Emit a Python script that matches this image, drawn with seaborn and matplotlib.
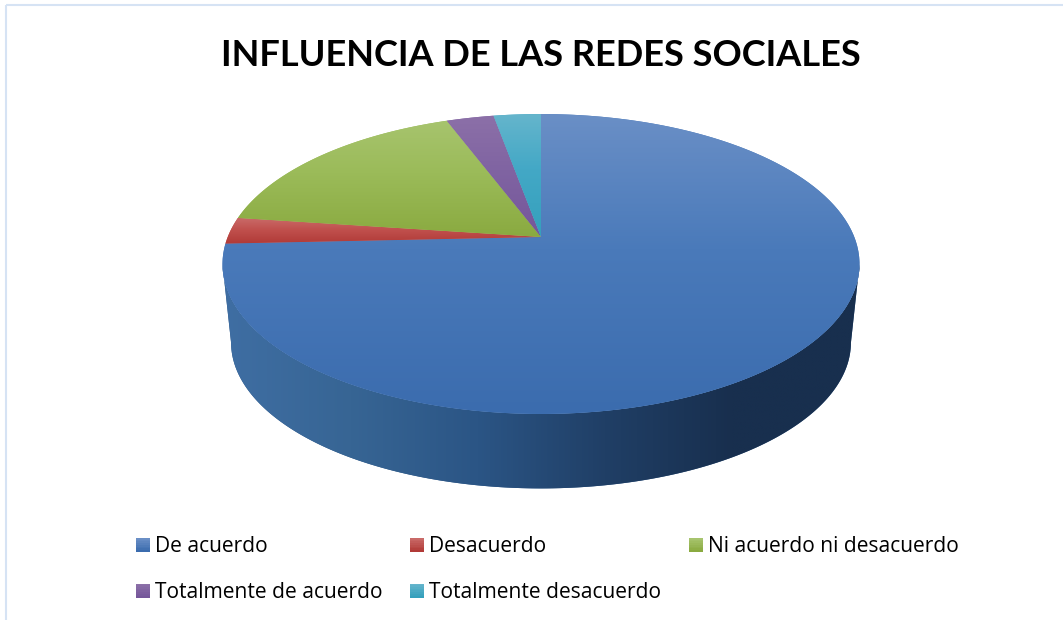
import numpy as np
import pandas as pd
import matplotlib
matplotlib.use("Agg")
import matplotlib.pyplot as plt
import seaborn as sns
from matplotlib.colors import LinearSegmentedColormap
from matplotlib.legend_handler import HandlerBase
from matplotlib.patches import Polygon, Patch, Rectangle
from matplotlib.path import Path
from matplotlib.transforms import Transform

title = "INFLUENCIA DE LAS REDES SOCIALES"
categories = ["De acuerdo", "Desacuerdo", "Ni acuerdo ni desacuerdo",
              "Totalmente de acuerdo", "Totalmente desacuerdo"]
values = [26, 1, 6, 1, 1]
tops = ["#6a8fc6", "#c96a68", "#a7c46e", "#8c70a8", "#65b5cc"]
mids = ["#4a7aba", "#c0504d", "#9bbb59", "#8064a2", "#43a8c6"]
lows = ["#3b6cae", "#b13a37", "#8aaa40", "#75569a", "#35a0bc"]
wall_stops = ["#3f6ea3", "#376594", "#2b5585", "#203f66", "#182f4e", "#182f4e"]

df = pd.DataFrame({"categoria": categories, "valor": values})

sns.set_theme(style="white")
plt.rcParams["font.family"] = ["Open Sans", "DejaVu Sans"]

W, H = 1063, 620
CX, CY = 541.0, 237.0          # apex of the pie on the canvas
K, A, B = 0.18, 313.3, 145.1   # perspective of the tilted disc


class Tilt(Transform):
    """Perspective view of a unit disc, in canvas pixels."""
    input_dims = output_dims = 2
    is_separable = False
    has_inverse = False

    def transform_non_affine(self, xy):
        xy = np.asarray(xy, float)
        d = 1 + K * xy[:, 1]
        return np.column_stack((CX + A * xy[:, 0] / d, CY - B * xy[:, 1] / d))

    def transform_path_non_affine(self, path):
        big = Path(path.vertices * 2000, path.codes)
        polys = big.to_polygons(closed_only=True)
        v = np.vstack(polys) / 2000
        return Path(self.transform_non_affine(v), closed=False)


tilt = Tilt()

fig = plt.figure(figsize=(W / 100, H / 100), dpi=100, facecolor="white")
ax = fig.add_axes([0, 0, 1, 1])

wedges, _ = ax.pie(df["valor"], startangle=90, counterclock=False,
                   colors=sns.color_palette(mids), radius=1.0, center=(0, 0))
ax.set_aspect("auto")
ax.set_xlim(0, W)
ax.set_ylim(H, 0)
ax.axis("off")

# Side wall of the disc
th = np.radians(np.linspace(-100.4, 280.4, 721))
rim = tilt.transform_non_affine(np.column_stack((np.cos(th), np.sin(th))))
front = rim[(np.sin(th) <= -K + 1e-3)]
front = front[np.argsort(front[:, 0])]
SCALE, DROP = 0.973, 78.5
lower = np.column_stack((CX + (front[:, 0] - CX) * SCALE,
                         264 + DROP + (front[:, 1] - 264) * SCALE))
wall = Polygon(np.vstack((front, lower[::-1])), closed=True, fc=wall_stops[2],
               ec="none", zorder=1)
ax.add_patch(wall)
wall_cm = LinearSegmentedColormap.from_list("wall", wall_stops)
im = ax.imshow(np.linspace(0, 1, 256)[None, :], cmap=wall_cm, aspect="auto",
               extent=(223, 860, 490, 260), zorder=1.1, interpolation="bilinear")
im.set_clip_path(wall)

# Top face, one gradient per slice
for w, a, b, c in zip(wedges, tops, mids, lows):
    w.set_transform(tilt + ax.transData)
    w.set_zorder(2)
    w.set_edgecolor("none")
    verts = w.get_transform().transform_path(w.get_path()).vertices
    px = ax.transData.inverted().transform(verts)
    x0, x1, y0, y1 = px[:, 0].min(), px[:, 0].max(), px[:, 1].min(), px[:, 1].max()
    cm = LinearSegmentedColormap.from_list("s", [(0, a), (0.45, b), (1, c)])
    im = ax.imshow(np.linspace(0, 1, 256)[:, None], cmap=cm, aspect="auto",
                   extent=(x0, x1, y1, y0), zorder=2.1, interpolation="bilinear")
    im.set_clip_path(w)

ax.set_xlim(0, W)
ax.set_ylim(H, 0)

# Frame of the chart area
ax.add_patch(Rectangle((5.5, 5), W + 20, H + 20, fc="none", ec="#d6e3f4", lw=1.5, zorder=0))

ax.text(541, 55, title, ha="center", va="center", fontsize=26,
        fontweight="bold", color="black", family=["Lato", "DejaVu Sans"])


class GradientSquare(HandlerBase):
    def create_artists(self, legend, handle, xd, yd, width, height, fontsize, trans):
        a, b = handle.stops
        cm = LinearSegmentedColormap.from_list("h", [a, b])
        side = 10
        x0, y0 = -xd, -yd + (height - side) / 2
        n = 8
        return [Rectangle((x0, y0 + side * (n - 1 - i) / n), side, side / n + 0.1,
                          fc=cm(i / (n - 1)), ec="none", transform=trans)
                for i in range(n)]


handles = []
for name, a, c in zip(categories, tops, lows):
    p = Patch(label=name)
    p.stops = (a, c)
    handles.append(p)
order = [0, 3, 1, 4, 2]
ax.legend([handles[i] for i in order], [categories[i] for i in order],
          ncol=3, loc="upper left", bbox_to_anchor=(128 / W, 1 - 528 / H),
          frameon=False, fontsize=15.1, handler_map={Patch: GradientSquare()},
          handlelength=0.7, handletextpad=0.2, columnspacing=1.32,
          labelspacing=1.17, labelcolor="black", borderpad=0.4, borderaxespad=0)

fig.savefig("out.png", dpi=100)
